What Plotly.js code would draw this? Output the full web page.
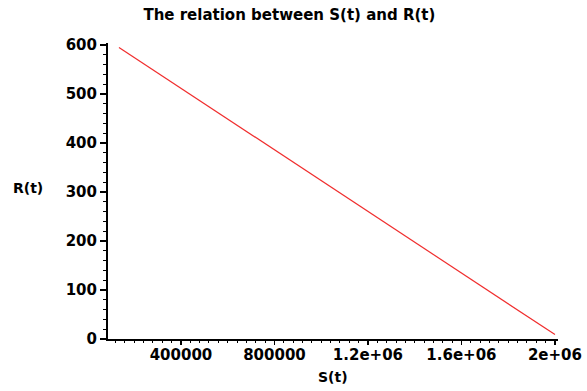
<!DOCTYPE html>
<html>
<head>
<meta charset="utf-8">
<script src="https://cdn.plot.ly/plotly-3.0.1.min.js"></script>
<style>html,body{margin:0;padding:0;background:#fff;}#chart{width:587px;height:391px;}</style>
</head>
<body>
<div id="chart"></div>
<script>
const sValues = [135000, 567000, 1000000, 1500000, 2000000];
const rValues = [595, 459, 323, 166, 9];
const xTickVals = [400000, 800000, 1200000, 1600000, 2000000];
const xTickText = ["400000", "800000", "1.2e+06", "1.6e+06", "2e+06"];
const yTickVals = [0, 100, 200, 300, 400, 500, 600];

const FAM = "DejaVu Sans, Liberation Sans, Arial, sans-serif";
const tickFont = {family: FAM, size: 15, color: "#000", weight: "bold"};
const labelFont = {family: FAM, size: 14, color: "#000", weight: "bold"};

const trace = {
  x: sValues, y: rValues, type: "scatter", mode: "lines",
  line: {color: "rgb(240,45,45)", width: 1.2},
  hoverinfo: "skip", showlegend: false
};

const layout = {
  width: 587, height: 391,
  margin: {l: 108, r: 29, t: 43, b: 52},
  paper_bgcolor: "#fff", plot_bgcolor: "#fff",
  title: {text: "The relation between S(t) and R(t)", font: {family: FAM, size: 15, color: "#000", weight: "bold"}, x: 0.493, xanchor: "center", y: 0.962, yanchor: "middle"},
  xaxis: {
    range: [88000, 2013000], showgrid: false, zeroline: false,
    showline: true, linecolor: "#000", linewidth: 2,
    ticks: "outside", ticklen: 4, tickwidth: 1.5, tickcolor: "#000",
    tickmode: "array", tickvals: xTickVals, ticktext: xTickText,
    tickfont: tickFont, ticklabelstandoff: -3,
    minor: {tickmode: "linear", tick0: 0, dtick: 40000, ticks: "outside", ticklen: 2, tickwidth: 1, tickcolor: "#000", showgrid: false},
    title: {text: ""}
  },
  yaxis: {
    range: [0, 604], showgrid: false, zeroline: false,
    showline: true, linecolor: "#000", linewidth: 2,
    ticks: "outside", ticklen: 6, tickwidth: 1.5, tickcolor: "#000",
    tickmode: "array", tickvals: yTickVals,
    tickfont: tickFont,
    minor: {tickmode: "linear", tick0: 0, dtick: 20, ticks: "outside", ticklen: 3, tickwidth: 1, tickcolor: "#000", showgrid: false},
    title: {text: ""}
  },
  annotations: [
    {text: "R(t)", xref: "paper", yref: "paper", x: -0.178, y: 0.51, showarrow: false, xanchor: "center", yanchor: "middle", font: labelFont},
    {text: "S(t)", xref: "paper", yref: "paper", x: 0.5, y: -0.13, showarrow: false, xanchor: "center", yanchor: "middle", font: labelFont}
  ]
};

Plotly.newPlot("chart", [trace], layout, {displayModeBar: false, staticPlot: true});
</script>
</body>
</html>
